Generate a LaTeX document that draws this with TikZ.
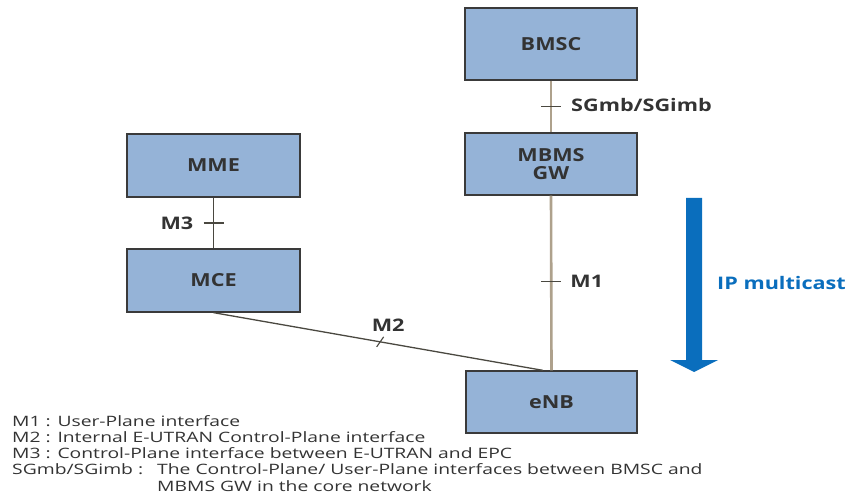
\documentclass[tikz,border=0pt]{standalone}
\usepackage{fontspec}
\setmainfont{Open Sans}
\newfontfamily\legendfont[FakeStretch=1.35]{Open Sans}
\newfontfamily\labelfont[FakeStretch=1.25]{Open Sans}
\newfontfamily\boxfont[FakeStretch=1.2]{Open Sans}
\usetikzlibrary{calc}
\definecolor{boxfill}{HTML}{95B3D7}
\definecolor{boxline}{HTML}{3A3A3A}
\definecolor{txt}{HTML}{333333}
\definecolor{tanline}{HTML}{AEA18C}
\definecolor{darkline}{HTML}{4A4840}
\definecolor{mcblue}{HTML}{0A6EBD}
\begin{document}
\begin{tikzpicture}[x=1pt,y=-1pt,
  netbox/.style={draw=boxline,line width=1.3pt,fill=boxfill,rectangle,
    text=txt,font=\boxfont\fontsize{18}{20}\selectfont\bfseries,align=center,inner sep=0pt},
  tick/.style={line width=1.1pt,draw=darkline},
  iflabel/.style={text=txt,font=\labelfont\fontsize{17.3}{19}\selectfont\bfseries,inner sep=0pt},
  legend/.style={text=txt,font=\legendfont\fontsize{14.3}{16}\selectfont,anchor=west,inner sep=0pt}]
\useasboundingbox (0,0) rectangle (848,497);

% network elements
\node[netbox,minimum width=172pt,minimum height=72pt] (bmsc) at (551,44) {BMSC};
\node[netbox,minimum width=172pt,minimum height=62pt] (mbms) at (551,164) {MBMS\\[-2pt]GW};
\node[netbox,minimum width=173pt,minimum height=63pt] (mme) at (213.5,165.5) {MME};
\node[netbox,minimum width=173pt,minimum height=63pt] (mce) at (213.5,280.5) {MCE};
\node[netbox,minimum width=171pt,minimum height=62pt] (enb) at (551.5,402) {eNB};

% interfaces
\draw[line width=2.6pt,tanline] (bmsc.south) -- coordinate[pos=0.5] (sgt) (mbms.north);
\draw[line width=2.6pt,tanline] (mbms.south) -- coordinate[pos=0.49] (m1t) (enb.north);
\draw[line width=1.5pt,darkline] (mme.south) -- coordinate[pos=0.5] (m3t) (mce.north);
\draw[line width=1.3pt,darkline] (mce.south) -- coordinate[pos=0.506] (m2t)
  ($(enb.north west)!0.45!(enb.north east)$) coordinate (m2end);

% interface marks
\draw[tick] ($(sgt)+(-10,0)$) -- ($(sgt)+(10,0)$);
\draw[tick] ($(m1t)+(-10,0)$) -- ($(m1t)+(10,0)$);
\draw[tick] ($(m3t)+(-10,0)$) -- ($(m3t)+(10,0)$);
\draw[tick] ($(m2t)+(-3.5,5)$) -- ($(m2t)+(3.5,-5)$);

% interface names
\node[iflabel,anchor=west] (sglab) at ($(sgt)+(20,-1)$) {SGmb/SGimb};
\node[iflabel,anchor=west] (m1lab) at ($(m1t)+(19,0)$) {M1};
\node[iflabel,anchor=east] (m3lab) at ($(m3t)+(-20,0)$) {M3};
\node[iflabel] (m2lab) at ($(m2t)+(8,-17)$) {M2};

% multicast direction
\fill[mcblue] (686,198) -- (702,198) -- (702,360) -- (718,360) -- (694,372)
  -- (670,360) -- (686,360) -- cycle;
\node[anchor=west,text=mcblue,font=\labelfont\fontsize{17.3}{19}\selectfont\bfseries,inner sep=0pt]
  (iplab) at (717,283) {IP multicast};

% legend
\node[legend] (l1) at (12,421) {M1 : User-Plane interface};
\node[legend] (l2) at (12,437) {M2 : Internal E-UTRAN Control-Plane interface};
\node[legend] (l3) at (12,453) {M3 : Control-Plane interface between E-UTRAN and EPC};
\node[legend] (l4) at (12,469) {SGmb/SGimb :};
\node[legend] (l4b) at (157,469) {The Control-Plane/ User-Plane interfaces between BMSC and};
\node[legend] (l5) at (157,486) {MBMS GW in the core network};
\end{tikzpicture}
\end{document}
